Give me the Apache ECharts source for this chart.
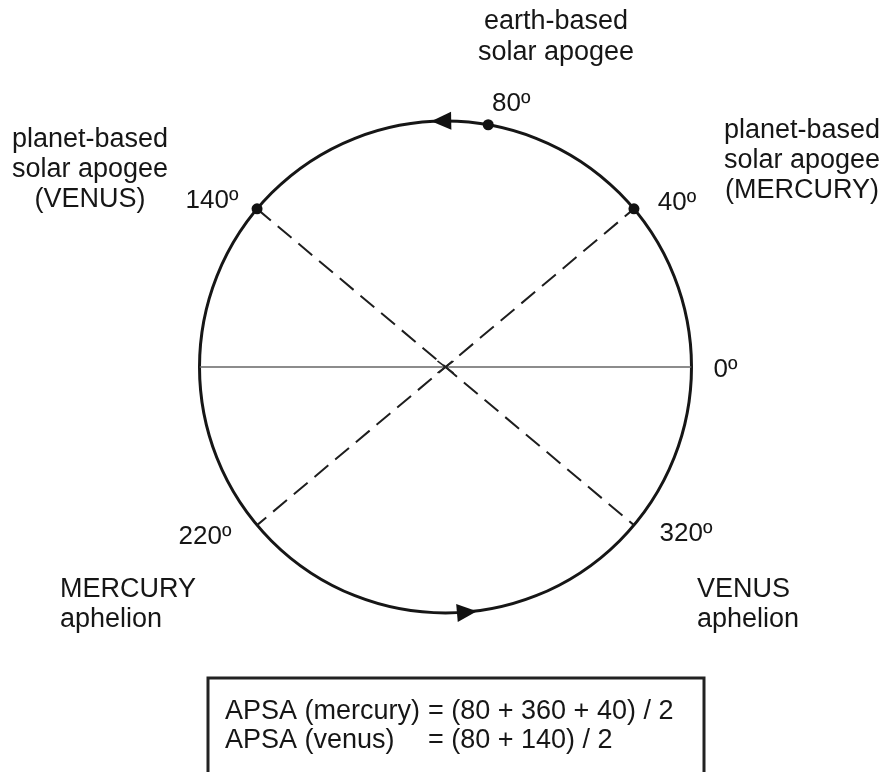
<!DOCTYPE html>
<html>
<head>
<meta charset="utf-8">
<script src="https://cdn.jsdelivr.net/npm/echarts@6/dist/echarts.min.js"></script>
<style>
html,body{margin:0;padding:0;background:#fff;}
#chart{width:882px;height:772px;}
</style>
</head>
<body>
<div id="chart"></div>
<script>
// ---- data ----
const pointAngles = [40, 80, 140];          // marked dots on the orbit
const mercuryLine = [40, 220];              // Mercury apogee -> aphelion
const venusLine = [140, 320];               // Venus apogee -> aphelion
const baseLine = [0, 180];                  // 0º reference line
const angleLabels = [0, 40, 80, 140, 220, 320];
const arrowAngles = [91, 275];              // direction arrows (counter-clockwise)
const formulaLeft = ['APSA (mercury)', 'APSA (venus)'];
const formulaRight = ['= (80 + 360 + 40) / 2', '= (80 + 140) / 2'];

// label offsets (style only)
const labelOffsets = {0:[34,3], 40:[43,-6], 80:[23,-21], 140:[-45,-8], 220:[-52,12], 320:[52,9]};

const FONT = '"Liberation Sans", Arial, sans-serif';
const INK = '#161616';

const chart = echarts.init(document.getElementById('chart'));
const toPolar = arr => arr.map(a => [1, a]);

const option = {
  backgroundColor: '#fff',
  animation: false,
  polar: { center: [445.5, 367], radius: 246 },
  angleAxis: {
    type: 'value', min: 0, max: 360, startAngle: 0, clockwise: false,
    axisLine: { show: true, lineStyle: { color: INK, width: 3 } },
    axisTick: { show: false }, axisLabel: { show: false }, splitLine: { show: false }
  },
  radiusAxis: {
    type: 'value', min: 0, max: 1, show: false,
    axisLine: { show: false }, axisTick: { show: false }, axisLabel: { show: false }, splitLine: { show: false }
  },
  series: [
    {
      type: 'line', coordinateSystem: 'polar', data: toPolar(baseLine),
      symbol: 'none', lineStyle: { color: '#666', width: 1.3 }, z: 1
    },
    {
      type: 'line', coordinateSystem: 'polar', data: toPolar(venusLine),
      symbol: 'none', lineStyle: { color: '#1e1e1e', width: 2, type: [18, 9] }, z: 2
    },
    {
      type: 'line', coordinateSystem: 'polar', data: toPolar(mercuryLine),
      symbol: 'none', lineStyle: { color: '#1e1e1e', width: 2, type: [18, 9], dashOffset: 6 }, z: 2
    },
    {
      type: 'scatter', coordinateSystem: 'polar', data: [[0, 0]],
      symbol: 'path://M0,0L10,7.5M10,0L0,7.5', symbolSize: [16, 12],
      itemStyle: { color: 'none', borderColor: '#222', borderWidth: 1.5, opacity: 1 }, z: 3
    },
    {
      type: 'scatter', coordinateSystem: 'polar', data: toPolar(pointAngles),
      symbol: 'circle', symbolSize: 11, itemStyle: { color: '#111', opacity: 1 }, z: 5
    },
    {
      type: 'scatter', coordinateSystem: 'polar',
      data: arrowAngles.map(a => ({ value: [1, a], symbolRotate: a })),
      symbol: 'triangle', symbolSize: [18, 20], itemStyle: { color: '#111', opacity: 1 }, z: 5
    },
    {
      type: 'scatter', coordinateSystem: 'polar', symbolSize: 0, silent: true,
      itemStyle: { opacity: 1, color: INK },
      data: angleLabels.map(a => ({
        value: [1, a],
        label: { show: true, position: 'inside', offset: labelOffsets[a], formatter: a + 'º' }
      })),
      label: { fontFamily: FONT, fontSize: 26, color: INK, opacity: 1 }, z: 6
    }
  ],
  graphic: [
    { type: 'text', x: 556, y: 6, style: { text: 'earth-based\nsolar apogee', font: '27px ' + FONT, fill: INK, align: 'center', lineHeight: 31 } },
    { type: 'text', x: 90, y: 125, style: { text: 'planet-based\nsolar apogee\n(VENUS)', font: '27px ' + FONT, fill: INK, align: 'center', lineHeight: 30 } },
    { type: 'text', x: 802, y: 116, style: { text: 'planet-based\nsolar apogee\n(MERCURY)', font: '27px ' + FONT, fill: INK, align: 'center', lineHeight: 30 } },
    { type: 'text', x: 60, y: 575, style: { text: 'MERCURY\naphelion', font: '27px ' + FONT, fill: INK, align: 'left', lineHeight: 30 } },
    { type: 'text', x: 697, y: 575, style: { text: 'VENUS\naphelion', font: '27px ' + FONT, fill: INK, align: 'left', lineHeight: 30 } },
    { type: 'rect', shape: { x: 208, y: 678, width: 496, height: 120 }, style: { fill: 'none', stroke: '#222', lineWidth: 3 } },
    { type: 'text', x: 225, y: 697, style: { text: formulaLeft.join('\n'), font: '27px ' + FONT, fill: INK, align: 'left', lineHeight: 29 } },
    { type: 'text', x: 428, y: 697, style: { text: formulaRight.join('\n'), font: '27px ' + FONT, fill: INK, align: 'left', lineHeight: 29 } }
  ]
};
chart.setOption(option);
</script>
</body>
</html>
